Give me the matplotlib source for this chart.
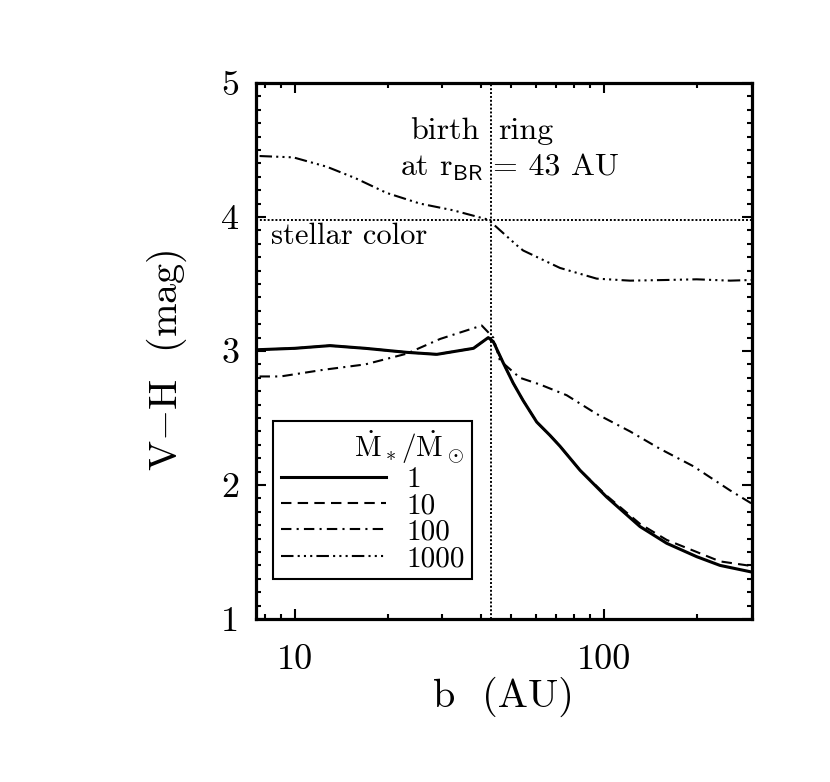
import matplotlib
matplotlib.use("Agg")
import matplotlib.pyplot as plt
from matplotlib.ticker import FixedLocator, MultipleLocator, NullFormatter

plt.rcParams['font.family'] = ['cmr10', 'DejaVu Serif']
plt.rcParams['mathtext.fontset'] = 'cm'
plt.rcParams['axes.unicode_minus'] = False

# ---------------- data ----------------
b_m1 = [7.7, 10.0, 13.0, 16.9, 23.0, 28.8, 37.8, 42.2, 43.8, 47.2, 50.8, 54.7, 60.5,
        66.8, 71.9, 83.5, 101.8, 130.4, 159.1, 198.9, 236.5, 300.0]
vh_m1 = [3.01, 3.02, 3.04, 3.02, 2.99, 2.975, 3.02, 3.10, 3.07, 2.91, 2.76, 2.63, 2.47,
         2.37, 2.29, 2.11, 1.91, 1.69, 1.565, 1.465, 1.40, 1.35]

b_m10 = [7.7, 10.0, 13.0, 16.9, 23.0, 28.8, 37.8, 42.2, 43.8, 47.2, 50.8, 54.7, 60.5,
         66.8, 71.9, 83.5, 101.8, 130.4, 159.1, 198.9, 236.5, 300.0]
vh_m10 = [3.01, 3.02, 3.04, 3.02, 2.99, 2.975, 3.02, 3.10, 3.07, 2.91, 2.76, 2.63, 2.47,
          2.37, 2.29, 2.11, 1.92, 1.71, 1.59, 1.50, 1.43, 1.395]

b_m100 = [7.7, 9.0, 12.4, 16.9, 23.0, 29.5, 40.2, 43.8, 46.0, 53.4, 62.0, 75.6,
          94.5, 121.1, 151.3, 193.9, 254.7, 300.0]
vh_m100 = [2.81, 2.81, 2.86, 2.90, 2.98, 3.09, 3.19, 3.10, 2.93, 2.80, 2.75, 2.67,
           2.53, 2.40, 2.27, 2.14, 1.96, 1.86]

b_m1000 = [7.7, 9.9, 12.7, 15.7, 19.8, 25.4, 32.5, 42.2, 52.1, 54.7, 71.9, 94.5,
           121.1, 159.1, 198.9, 254.7, 300.0]
vh_m1000 = [4.455, 4.445, 4.375, 4.29, 4.18, 4.10, 4.05, 3.98, 3.79, 3.75, 3.62, 3.54,
            3.525, 3.53, 3.535, 3.525, 3.53]

series_labels = ['1', '10', '100', '1000']
r_birth_ring = 43.0
stellar_color = 3.98

x_major = [10, 100]
x_major_labels = ['10', '100']
x_minor = [8, 9, 20, 30, 40, 50, 60, 70, 80, 90, 200, 300]
y_major = [1, 2, 3, 4, 5]

# ---------------- figure ----------------
fig = plt.figure(figsize=(8.3, 7.82), dpi=100)
ax = fig.add_axes([256/830, 1-619/782, 496/830, 536/782])

ax.plot(b_m1, vh_m1, color='black', lw=2.2, ls='-', label=series_labels[0])
ax.plot(b_m10, vh_m10, color='black', lw=1.5, ls=(0, (5, 3)), label=series_labels[1])
ax.plot(b_m100, vh_m100, color='black', lw=1.5, ls=(0, (5, 2.5, 1, 2.5)), label=series_labels[2])
ax.plot(b_m1000, vh_m1000, color='black', lw=1.5,
        ls=(0, (6, 2, 1, 2, 1, 2, 1, 2)), label=series_labels[3])

ax.axvline(r_birth_ring, color='black', lw=1.4, ls=(0, (1, 1)))
ax.axhline(stellar_color, color='black', lw=1.4, ls=(0, (1, 1)))

ax.set_xscale('log')
ax.set_xlim(7.5, 300)
ax.set_ylim(1, 5)

ax.set_xticks(x_major, x_major_labels)
ax.xaxis.set_minor_locator(FixedLocator(x_minor))
ax.xaxis.set_minor_formatter(NullFormatter())
ax.set_yticks(y_major, [str(v) for v in y_major])
ax.yaxis.set_minor_locator(MultipleLocator(0.1))

ax.tick_params(which='both', direction='in', top=True, right=True, width=1.5,
               color='black')
ax.tick_params(which='major', length=7.5)
ax.tick_params(which='minor', length=3.8)
ax.tick_params(axis='x', which='major', labelsize=26, pad=18)
ax.tick_params(axis='y', which='major', labelsize=26, pad=12)
for s in ax.spines.values():
    s.set_linewidth(2.3)

ax.set_xlabel('b  (AU)', fontsize=29)
ax.xaxis.set_label_coords(0.498, -0.108)
ax.set_ylabel(r'V$-$H  (mag)', fontsize=29)
ax.yaxis.set_label_coords(-0.135, 0.483)

ax.text(0.4516, 0.910, 'birth', transform=ax.transAxes, ha='right', va='center', fontsize=23)
ax.text(0.488, 0.910, 'ring', transform=ax.transAxes, ha='left', va='center', fontsize=23)
ax.text(0.458, 0.841, r'at r$_{\mathsf{BR}}$', transform=ax.transAxes, ha='right',
        va='center', fontsize=23)
ax.text(0.478, 0.841, '= 43 AU', transform=ax.transAxes, ha='left', va='center', fontsize=23)
ax.text(0.030, 0.7146, 'stellar color', transform=ax.transAxes, ha='left', va='center',
        fontsize=22)

leg = ax.legend(title=r'$\dot{\mathrm{M}}_*/\dot{\mathrm{M}}_\odot$',
                loc='lower left', bbox_to_anchor=(0.035, 0.074),
                fontsize=21, title_fontsize=21, frameon=True, fancybox=False,
                edgecolor='black', framealpha=1, handlelength=3.6,
                handletextpad=0.7, labelspacing=0.0, borderpad=0.25,
                borderaxespad=0, alignment='right')
leg.get_frame().set_linewidth(1.5)

fig.savefig('out.png', dpi=100)
